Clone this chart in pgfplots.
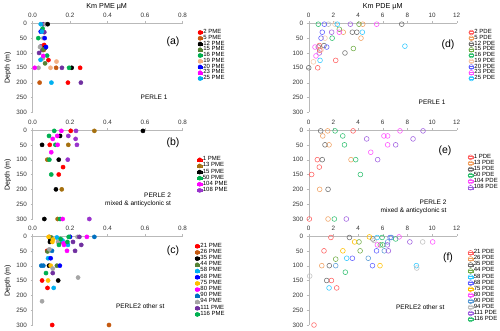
\documentclass[border=0pt]{standalone}
\usepackage{fontspec}
\setmainfont{Liberation Sans}
\usepackage{pgfplots}
\pgfplotsset{compat=1.18}

% left panels (filled dots)
\definecolor{cRed}{HTML}{FF0000}
\definecolor{cBrown}{HTML}{C55A11}
\definecolor{cDkGreen}{HTML}{548235}
\definecolor{cGreen}{HTML}{00B050}
\definecolor{cPeach}{HTML}{F4B183}
\definecolor{cBlue}{HTML}{0000FF}
\definecolor{cMagenta}{HTML}{FF00FF}
\definecolor{cSky}{HTML}{00B0F0}
\definecolor{cPurple}{HTML}{7030A0}
\definecolor{cGray}{HTML}{A5A5A5}
\definecolor{cOchre}{HTML}{A5700F}
\definecolor{cViolet}{HTML}{9933CC}
\definecolor{cGold}{HTML}{FFC000}
\definecolor{cSteel}{HTML}{0070C0}
% right panels (open circles)
\definecolor{pRed}{HTML}{FF6060}
\definecolor{pOrange}{HTML}{F0A060}
\definecolor{pGray}{HTML}{6F6F6F}
\definecolor{pOlive}{HTML}{70AD47}
\definecolor{pGreen}{HTML}{30C070}
\definecolor{pPeach}{HTML}{F8C8A8}
\definecolor{pBlue}{HTML}{6060FF}
\definecolor{pMagenta}{HTML}{FF50FF}
\definecolor{pSky}{HTML}{30C8FF}
\definecolor{pPurple}{HTML}{A060E0}
\definecolor{pLtGray}{HTML}{BFBFBF}
\definecolor{pGold}{HTML}{FFC000}
\definecolor{pSteel}{HTML}{5B9BD5}

\pgfplotsset{
  panel/.style={
    scale only axis, height=89pt, anchor=north west,
    y dir=reverse, ymin=0, ymax=300, ytick={0,50,100,150,200,250,300},
    axis x line*=top, axis y line*=left,
    axis line style={-, draw=gray!55},
    tick align=outside, major tick length=2pt, tick style={draw=gray!55},
    ticklabel style={font=\fontsize{6.3}{7}\selectfont, text=black!80},
    /pgf/number format/assume math mode=true,
    clip=false, enlargelimits=false,
    legend cell align=left,
    legend style={draw=none, fill=none, anchor=north west, inner sep=0pt,
      row sep=0pt, column sep=0.8pt, font=\fontsize{6}{6}\selectfont,
      nodes={inner sep=0pt, text height=4pt}},
    legend image code/.code={\path (0pt,-1pt) rectangle (4.4pt,1pt);
      \draw[##1] plot coordinates {(2.2pt,0pt)};},
  },
  leftp/.style={panel, width=150pt, xmin=0, xmax=0.8, xtick={0,0.2,0.4,0.6,0.8},
    xticklabel style={/pgf/number format/fixed, /pgf/number format/fixed zerofill,
      /pgf/number format/precision=1}},
  rightp/.style={panel, width=148pt, xmin=0, xmax=12, xtick={0,2,4,6,8,10,12}},
  dot/.style={only marks, mark=*, mark size=2.1pt, color=#1},
  ring/.style={only marks, mark=o, mark size=2.4pt, color=#1, mark options={line width=0.55pt}},
}

\begin{document}
\begin{tikzpicture}
\useasboundingbox (0,0) rectangle (500pt,-331pt);

% ---------------- (a) PME, PERLE 1
\begin{axis}[leftp, at={(32.5pt,-23.3pt)},
  legend style={at={(1.1,0.931)}, nodes={text depth=1.75pt}}]
\addplot[dot=cPurple, forget plot] coordinates {(0.058,3)(0.063,30)(0.045,78)(0.052,90)(0.035,100)(0.157,150)(0.258,200)};
\addplot[dot=cGray, forget plot] coordinates {(0.07,3)(0.058,50)(0.04,80)(0.055,118)(0.032,150)};
\addplot[dot=cRed] coordinates {(0.062,73)(0.085,124)(0.254,150)(0.189,200)};
\addlegendentry{2 PME}
\addplot[dot=cBrown] coordinates {(0.06,90)(0.126,150)(0.038,200)};
\addlegendentry{5 PME}
\addplot[dot=black] coordinates {(0.081,3)(0.068,82)(0.209,150)};
\addlegendentry{12 PME}
\addplot[dot=cDkGreen] coordinates {(0.058,88)(0.067,135)};
\addlegendentry{15 PME}
\addplot[dot=cGreen] coordinates {(0.054,18)(0.031,50)(0.078,109)(0.195,150)};
\addlegendentry{16 PME}
\addplot[dot=cPeach] coordinates {(0.128,129)(0.096,150)};
\addlegendentry{19 PME}
\addplot[dot=cBlue] coordinates {(0.044,28)(0.065,50)(0.072,80)};
\addlegendentry{20 PME}
\addplot[dot=cMagenta] coordinates {(0.057,110)(0.012,150)};
\addlegendentry{23 PME}
\addplot[dot=cSky] coordinates {(0.044,3)(0.05,28)(0.043,123)(0.101,200)};
\addlegendentry{25 PME}
\end{axis}

% ---------------- (b) PME, PERLE 2 mixed & anticyclonic
\begin{axis}[leftp, at={(32.5pt,-130pt)},
  legend style={at={(1.097,0.701)}, nodes={text depth=2.1pt}}]
\addplot[dot=cRed] coordinates {(0.204,3)(0.092,50)(0.163,125)(0.14,150)};
\addlegendentry{1 PME}
\addplot[dot=cOchre] coordinates {(0.33,3)(0.191,50)(0.079,100)(0.156,200)(0.134,300)};
\addlegendentry{13 PME}
\addplot[dot=black] coordinates {(0.589,3)(0.147,20)(0.051,50)(0.14,100)(0.125,200)(0.063,300)};
\addlegendentry{15 PME}
\addplot[dot=cGreen] coordinates {(0.116,3)(0.088,20)(0.122,50)(0.09,100)(0.1,150)(0.147,300)};
\addlegendentry{50 PME}
\addplot[dot=cMagenta] coordinates {(0.154,3)(0.132,20)(0.108,30)(0.134,50)(0.1,75)(0.161,300)};
\addlegendentry{104 PME}
\addplot[dot=cViolet] coordinates {(0.232,3)(0.191,20)(0.23,30)(0.237,50)(0.188,100)(0.303,300)};
\addlegendentry{108 PME}
\end{axis}

% ---------------- (c) PME, PERLE 2 other stations
\begin{axis}[leftp, at={(32.5pt,-236pt)},
  legend style={at={(1.081,0.922)}, nodes={text depth=2.2pt}}]
\addplot[dot=cRed] coordinates {(0.078,50)(0.051,150)(0.08,175)(0.105,300)};
\addlegendentry{21 PME}
\addplot[dot=cBrown] coordinates {(0.09,3)(0.095,15)(0.408,300)};
\addlegendentry{26 PME}
\addplot[dot=black] coordinates {(0.095,12)(0.093,20)(0.088,100)(0.137,150)};
\addlegendentry{35 PME}
\addplot[dot=cDkGreen] coordinates {(0.1,5)(0.148,20)(0.08,52)(0.13,100)};
\addlegendentry{44 PME}
\addplot[dot=cSky] coordinates {(0.13,5)(0.16,15)(0.189,30)(0.083,75)(0.113,175)};
\addlegendentry{58 PME}
\addplot[dot=cBlue] coordinates {(0.2,3)(0.097,75)(0.146,100)};
\addlegendentry{68 PME}
\addplot[dot=cGold] coordinates {(0.086,3)(0.11,12)(0.106,20)(0.097,100)(0.083,150)};
\addlegendentry{75 PME}
\addplot[dot=cMagenta] coordinates {(0.29,3)(0.166,25)(0.168,30)(0.184,50)};
\addlegendentry{80 PME}
\addplot[dot=cSteel] coordinates {(0.33,3)(0.104,50)(0.047,100)(0.058,100)};
\addlegendentry{90 PME}
\addplot[dot=cGray] coordinates {(0.24,3)(0.136,20)(0.09,45)(0.108,110)(0.243,140)(0.051,220)};
\addlegendentry{94 PME}
\addplot[dot=cPurple] coordinates {(0.25,3)(0.216,20)(0.26,30)(0.227,50)(0.108,125)};
\addlegendentry{111 PME}
\addplot[dot=cGreen] coordinates {(0.193,3)(0.15,10)(0.186,20)(0.141,30)(0.072,125)};
\addlegendentry{116 PME}
\end{axis}

% ---------------- (d) PDE, PERLE 1
\begin{axis}[rightp, at={(308.7pt,-23.3pt)},
  legend style={at={(1.081,0.931)}, nodes={text depth=1.75pt}}]
\addplot[ring=pPurple, forget plot] coordinates {(3.38,3)(1.86,30)(0.86,100)};
\addplot[ring=pLtGray, forget plot] coordinates {(1.6,3)};
\addplot[ring=pRed] coordinates {(0.86,75)(0.9,91)(2.19,125)(0.73,150)};
\addlegendentry{2 PDE}
\addplot[ring=pOrange] coordinates {(4.38,3)(2.8,30)(4.24,50)};
\addlegendentry{5 PDE}
\addplot[ring=pGray] coordinates {(7.54,3)(3.54,30)(3.9,30)(1.24,75)(0.78,80)(2.94,100)(0,150)};
\addlegendentry{12 PDE}
\addplot[ring=pOlive] coordinates {(4.08,3)(2.48,20)(3.62,85)};
\addlegendentry{15 PDE}
\addplot[ring=pGreen] coordinates {(0.78,3)(1.9,50)};
\addlegendentry{16 PDE}
\addplot[ring=pPeach] coordinates {(2.13,3)(1.32,50)(1.0,90)(0.38,130)};
\addlegendentry{19 PDE}
\addplot[ring=pBlue] coordinates {(1.27,3)(1.1,30)(1.0,50)(1.46,80)};
\addlegendentry{20 PDE}
\addplot[ring=pMagenta] coordinates {(5.51,3)(2.48,30)(0.51,80)(0.59,110)};
\addlegendentry{23 PDE}
\addplot[ring=pSky] coordinates {(2.32,3)(4.35,30)(7.8,77)(0.92,125)};
\addlegendentry{25 PDE}
\end{axis}

% ---------------- (e) PDE, PERLE 2 mixed & anticyclonic
\begin{axis}[rightp, at={(308.7pt,-130pt)},
  legend style={at={(1.076,0.73)}, nodes={text depth=2.1pt}}]
\addplot[ring=pRed] coordinates {(3.6,3)(0.7,100)(0.86,125)(0.24,150)(0.05,300)};
\addlegendentry{1 PDE}
\addplot[ring=pOrange] coordinates {(1.54,3)(1.14,20)(1.65,50)(3.43,100)(0.89,200)(1.57,300)};
\addlegendentry{13 PDE}
\addplot[ring=pGray] coordinates {(0.97,3)(1.32,50)(1.1,100)(1.57,200)};
\addlegendentry{15 PDE}
\addplot[ring=pGreen] coordinates {(2.14,3)(2.76,20)(2.9,50)(3.81,100)(4.19,150)(2.08,300)};
\addlegendentry{50 PDE}
\addplot[ring=pMagenta] coordinates {(7.4,3)(6.1,20)(6.4,20)(6.4,50)(5.03,75)};
\addlegendentry{104 PDE}
\addplot[ring=pPurple] coordinates {(9.27,3)(4.7,30)(8.46,30)(7.05,50)(5.59,100)(3.05,300)};
\addlegendentry{108 PDE}
\end{axis}

% ---------------- (f) PDE, PERLE 2 other stations
\begin{axis}[rightp, at={(308.7pt,-236pt)},
  legend style={at={(1.076,0.847)}, nodes={text depth=2.05pt}}]
\addplot[ring=pRed] coordinates {(1.8,5)(1.24,50)(1.84,150)(2.27,175)(0.43,300)};
\addlegendentry{21 PDE}
\addplot[ring=pOrange] coordinates {(1.06,100)};
\addlegendentry{26 PDE}
\addplot[ring=pGray] coordinates {(3.3,5)(5.2,10)(1.67,100)(1.46,150)};
\addlegendentry{35 PDE}
\addplot[ring=pOlive] coordinates {(4.08,20)(5.8,30)(4.17,50)(2.19,78)};
\addlegendentry{44 PDE}
\addplot[ring=pSky] coordinates {(5.55,5)(3.08,75)(8.73,100)(1.65,175)};
\addlegendentry{58 PDE}
\addplot[ring=pBlue] coordinates {(6.6,5)(5.5,50)(3.54,75)(5.17,100)};
\addlegendentry{68 PDE}
\addplot[ring=pGold] coordinates {(4.92,3)(3.72,20)(2.77,50)(5.78,100)};
\addlegendentry{75 PDE}
\addplot[ring=pMagenta] coordinates {(7.33,3)(10.05,20)(5.57,30)};
\addlegendentry{80 PDE}
\addplot[ring=pSteel] coordinates {(6.7,5)(6.4,20)(6.13,50)(4.83,75)(2.19,100)};
\addlegendentry{90 PDE}
\addplot[ring=pLtGray] coordinates {(5.3,15)(9.24,20)(8.76,108)(0.08,135)};
\addlegendentry{94 PDE}
\addplot[ring=pPurple] coordinates {(8.2,20)(6.38,30)(6.46,50)};
\addlegendentry{111 PDE}
\addplot[ring=pGreen] coordinates {(5.95,5)(7.05,10)(6.0,30)(2.97,122)};
\addlegendentry{116 PDE}
\end{axis}

% titles, panel letters and station notes
\node[font=\fontsize{7.2}{8}\selectfont] at (106.7pt,-6.5pt) {Km PME µM};
\node[font=\fontsize{7.2}{8}\selectfont] at (382.7pt,-6.5pt) {Km PDE µM};
\foreach \yc in {68,174.5,280.5}
  \node[rotate=90, font=\fontsize{7}{8}\selectfont] at (7.7pt,-\yc pt) {Depth (m)};
\begin{scope}[every node/.style={font=\fontsize{10.5}{11}\selectfont}]
\node at (173pt,-42pt) {(a)};
\node at (173pt,-143pt) {(b)};
\node at (173pt,-251pt) {(c)};
\node at (448pt,-45pt) {(d)};
\node at (445pt,-151pt) {(e)};
\node at (448pt,-258pt) {(f)};
\end{scope}
\begin{scope}[every node/.style={anchor=east, font=\fontsize{6.5}{7}\selectfont}]
\node at (171pt,-97pt) {PERLE 1};
\node at (174.5pt,-195.5pt) {PERLE 2};
\node at (174.5pt,-203.5pt) {mixed \& anticyclonic st};
\node at (168pt,-306.5pt) {PERLE2 other st};
\node at (449pt,-102pt) {PERLE 1};
\node at (450pt,-202.5pt) {PERLE 2};
\node at (450pt,-210.5pt) {mixed \& anticyclonic st};
\node at (448pt,-307.5pt) {PERLE2 other st};
\end{scope}
\end{tikzpicture}
\end{document}
